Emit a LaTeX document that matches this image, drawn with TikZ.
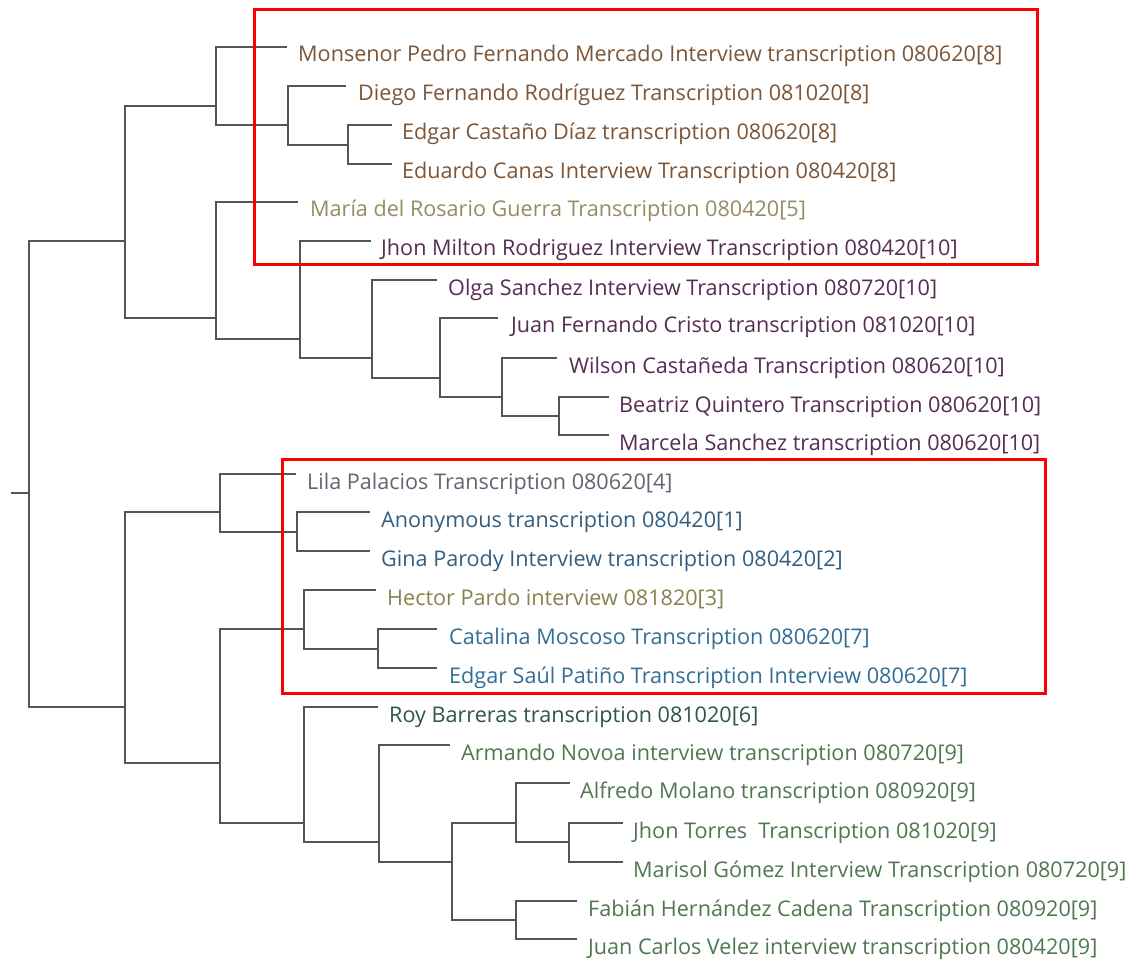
\documentclass[tikz,border=0pt]{standalone}
\usepackage{fontspec}
\setmainfont{Open Sans}
\definecolor{cBrown}{RGB}{125,85,55}
\definecolor{cKhaki}{RGB}{150,140,100}
\definecolor{cPurple}{RGB}{85,45,85}
\definecolor{cGrey}{RGB}{100,100,115}
\definecolor{cBlue}{RGB}{50,95,130}
\definecolor{cOlive}{RGB}{135,130,80}
\definecolor{cSky}{RGB}{50,110,150}
\definecolor{cTeal}{RGB}{45,85,80}
\definecolor{cGreen}{RGB}{80,120,80}
\definecolor{cTree}{RGB}{85,85,85}
\tikzset{
  branch/.style={line width=2.5pt, cTree},
  leaf/.style={anchor=base west, inner sep=0pt, font=\fontsize{21.6}{24}\selectfont},
  mark box/.style={line width=3pt, red}
}
\begin{document}
\begin{tikzpicture}[x=1pt, y=-1pt]
  \useasboundingbox[fill=white] (0,0) rectangle (1144,960);
  % internal nodes
  \coordinate (root) at (29,493);
  \coordinate (stub) at (11,493);
  \coordinate (A) at (125,241);
  \coordinate (A1) at (216,106);
  \coordinate (A1b) at (288,125);
  \coordinate (A1c) at (348,145);
  \coordinate (A2) at (216,318);
  \coordinate (A2b) at (300,339);
  \coordinate (A2c) at (372,358);
  \coordinate (A2d) at (440,378);
  \coordinate (A2e) at (502,397);
  \coordinate (A2f) at (559,416);
  \coordinate (B) at (125,707);
  \coordinate (B1) at (220,512);
  \coordinate (B1b) at (297,532);
  \coordinate (B2) at (220,763);
  \coordinate (B2a) at (304,629);
  \coordinate (B2b) at (378,649);
  \coordinate (B3) at (304,823);
  \coordinate (B3b) at (379,842);
  \coordinate (B3c) at (452,862);
  \coordinate (B3d) at (516,823);
  \coordinate (B3e) at (569,842);
  \coordinate (B3f) at (516,920);
  % leaf ends
  \coordinate (monsenor) at (287,47);
  \coordinate (diego) at (346,86);
  \coordinate (edgarc) at (392,125);
  \coordinate (eduardo) at (392,164);
  \coordinate (maria) at (298,202);
  \coordinate (jhonm) at (371,241);
  \coordinate (olga) at (437,280);
  \coordinate (juanf) at (498,318);
  \coordinate (wilson) at (557,358);
  \coordinate (beatriz) at (609,397);
  \coordinate (marcela) at (609,435);
  \coordinate (lila) at (296,474);
  \coordinate (anon) at (370,512);
  \coordinate (gina) at (370,551);
  \coordinate (hector) at (376,590);
  \coordinate (catalina) at (437,629);
  \coordinate (edgars) at (437,668);
  \coordinate (roy) at (378,707);
  \coordinate (armando) at (450,745);
  \coordinate (alfredo) at (570,783);
  \coordinate (jhont) at (623,823);
  \coordinate (marisol) at (623,862);
  \coordinate (fabian) at (577,901);
  \coordinate (juanc) at (577,939);

  % tree
  \draw[branch] (stub) -- (root);
  \draw[branch] (root) |- (A);
  \draw[branch] (root) |- (B);
  \draw[branch] (A) |- (A1);
  \draw[branch] (A) |- (A2);
  \draw[branch] (A1) |- (monsenor);
  \draw[branch] (A1) |- (A1b);
  \draw[branch] (A1b) |- (diego);
  \draw[branch] (A1b) |- (A1c);
  \draw[branch] (A1c) |- (edgarc);
  \draw[branch] (A1c) |- (eduardo);
  \draw[branch] (A2) |- (maria);
  \draw[branch] (A2) |- (A2b);
  \draw[branch] (A2b) |- (jhonm);
  \draw[branch] (A2b) |- (A2c);
  \draw[branch] (A2c) |- (olga);
  \draw[branch] (A2c) |- (A2d);
  \draw[branch] (A2d) |- (juanf);
  \draw[branch] (A2d) |- (A2e);
  \draw[branch] (A2e) |- (wilson);
  \draw[branch] (A2e) |- (A2f);
  \draw[branch] (A2f) |- (beatriz);
  \draw[branch] (A2f) |- (marcela);
  \draw[branch] (B) |- (B1);
  \draw[branch] (B) |- (B2);
  \draw[branch] (B1) |- (lila);
  \draw[branch] (B1) |- (B1b);
  \draw[branch] (B1b) |- (anon);
  \draw[branch] (B1b) |- (gina);
  \draw[branch] (B2) |- (B2a);
  \draw[branch] (B2) |- (B3);
  \draw[branch] (B2a) |- (hector);
  \draw[branch] (B2a) |- (B2b);
  \draw[branch] (B2b) |- (catalina);
  \draw[branch] (B2b) |- (edgars);
  \draw[branch] (B3) |- (roy);
  \draw[branch] (B3) |- (B3b);
  \draw[branch] (B3b) |- (armando);
  \draw[branch] (B3b) |- (B3c);
  \draw[branch] (B3c) |- (B3d);
  \draw[branch] (B3c) |- (B3f);
  \draw[branch] (B3d) |- (alfredo);
  \draw[branch] (B3d) |- (B3e);
  \draw[branch] (B3e) |- (jhont);
  \draw[branch] (B3e) |- (marisol);
  \draw[branch] (B3f) |- (fabian);
  \draw[branch] (B3f) |- (juanc);

  % labels
  \node[leaf, cBrown] (tmonsenor) at (298,62) {Monsenor Pedro Fernando Mercado Interview transcription 080620[8]};
  \node[leaf, cBrown] (tdiego) at (358,101) {Diego Fernando Rodríguez Transcription 081020[8]};
  \node[leaf, cBrown] (tedgarc) at (402,140) {Edgar Castaño Díaz transcription 080620[8]};
  \node[leaf, cBrown] (teduardo) at (402,179) {Eduardo Canas Interview Transcription 080420[8]};
  \node[leaf, cKhaki] (tmaria) at (310,217) {María del Rosario Guerra Transcription 080420[5]};
  \node[leaf, cPurple] (tjhonm) at (381,256) {Jhon Milton Rodriguez Interview Transcription 080420[10]};
  \node[leaf, cPurple] (tolga) at (448,295) {Olga Sanchez Interview Transcription 080720[10]};
  \node[leaf, cPurple] (tjuanf) at (511,333) {Juan Fernando Cristo transcription 081020[10]};
  \node[leaf, cPurple] (twilson) at (569,373) {Wilson Castañeda Transcription 080620[10]};
  \node[leaf, cPurple] (tbeatriz) at (619,412) {Beatriz Quintero Transcription 080620[10]};
  \node[leaf, cPurple] (tmarcela) at (619,450) {Marcela Sanchez transcription 080620[10]};
  \node[leaf, cGrey] (tlila) at (307,489) {Lila Palacios Transcription 080620[4]};
  \node[leaf, cBlue] (tanon) at (381,527) {Anonymous transcription 080420[1]};
  \node[leaf, cBlue] (tgina) at (381,566) {Gina Parody Interview transcription 080420[2]};
  \node[leaf, cOlive] (thector) at (387,605) {Hector Pardo interview 081820[3]};
  \node[leaf, cSky] (tcatalina) at (449,644) {Catalina Moscoso Transcription 080620[7]};
  \node[leaf, cSky] (tedgars) at (449,683) {Edgar Saúl Patiño Transcription Interview 080620[7]};
  \node[leaf, cTeal] (troy) at (389,722) {Roy Barreras transcription 081020[6]};
  \node[leaf, cGreen] (tarmando) at (461,760) {Armando Novoa interview transcription 080720[9]};
  \node[leaf, cGreen] (talfredo) at (580,798) {Alfredo Molano transcription 080920[9]};
  \node[leaf, cGreen] (tjhont) at (633,838) {Jhon Torres\ \ Transcription 081020[9]};
  \node[leaf, cGreen] (tmarisol) at (633,877) {Marisol Gómez Interview Transcription 080720[9]};
  \node[leaf, cGreen] (tfabian) at (588,916) {Fabián Hernández Cadena Transcription 080920[9]};
  \node[leaf, cGreen] (tjuanc) at (588,954) {Juan Carlos Velez interview transcription 080420[9]};

  % highlight boxes
  \draw[mark box] (254,10) rectangle (1037,265);
  \draw[mark box] (282,459) rectangle (1045,693);
\end{tikzpicture}
\end{document}
